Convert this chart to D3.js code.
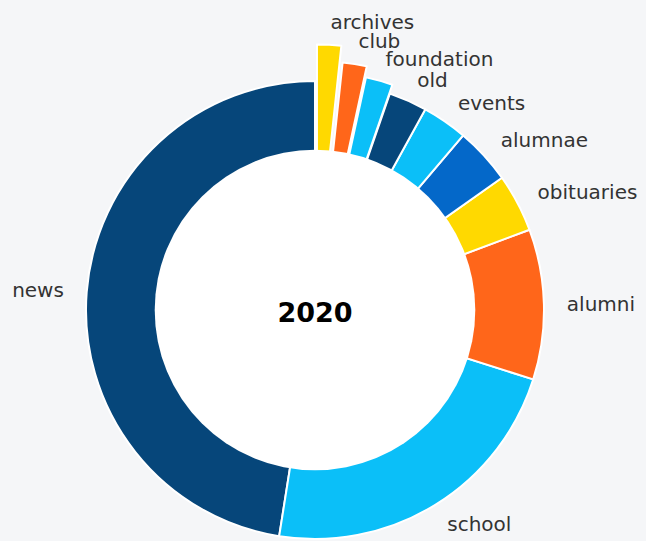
<!DOCTYPE html>
<html>
<head>
<meta charset="utf-8">
<script src="https://cdn.jsdelivr.net/npm/d3@7"></script>
<style>
  html, body { margin: 0; padding: 0; background: #f5f6f8; }
  svg { display: block; }
</style>
</head>
<body>
<svg id="chart" width="646" height="541"></svg>
<script>
// Share of pages per section, 2020 (percent)
const categories = ["news", "school", "alumni", "obituaries", "alumnae", "events", "old", "foundation", "club", "archives"];
const shares     = [47.5, 22.6, 10.6, 4.1, 4.0, 3.2, 2.7, 1.9, 1.7, 1.7];
// How far each wedge is pulled out, as a fraction of the radius
const offsets    = [0, 0, 0, 0, 0, 0, 0, 0.04, 0.088, 0.16];
const palette    = ["#06467a", "#0bbff8", "#ff661a", "#ffd900", "#0468c9", "#0bbff8", "#06467a", "#0bbff8", "#ff661a", "#ffd900"];
const centerTitle = "2020";

const width = 646, height = 541;
const cx = 315, cy = 310;
const radius = 229;
const holeRatio = 0.7;
const labelDistance = 1.1;

const svg = d3.select("#chart");
const g = svg.append("g").attr("transform", `translate(${cx},${cy})`);

const rows = categories.map((c, i) => ({ name: c, value: shares[i], offset: offsets[i], color: palette[i] }));

// Counter-clockwise from 12 o'clock
const pie = d3.pie().value(d => d.value).sort(null).startAngle(0).endAngle(-2 * Math.PI);
const arcs = pie(rows);

const arc = d3.arc().innerRadius(0).outerRadius(radius);

const mid = d => (d.startAngle + d.endAngle) / 2;

g.selectAll("path.wedge")
  .data(arcs)
  .join("path")
  .attr("class", "wedge")
  .attr("d", arc)
  .attr("transform", d => {
    const a = mid(d), s = d.data.offset * radius;
    return `translate(${s * Math.sin(a)},${-s * Math.cos(a)})`;
  })
  .attr("fill", d => d.data.color)
  .attr("stroke", "#ffffff")
  .attr("stroke-width", 2)
  .attr("stroke-linejoin", "round");

// Hole of the ring
g.append("circle")
  .attr("r", radius * holeRatio)
  .attr("fill", "#ffffff");

g.selectAll("text.label")
  .data(arcs)
  .join("text")
  .attr("class", "label")
  .attr("x", d => (labelDistance + d.data.offset) * radius * Math.sin(mid(d)))
  .attr("y", d => -(labelDistance + d.data.offset) * radius * Math.cos(mid(d)))
  .attr("text-anchor", d => Math.sin(mid(d)) > 0 ? "start" : "end")
  .attr("dominant-baseline", "central")
  .attr("font-family", "DejaVu Sans, sans-serif")
  .attr("font-size", 20)
  .attr("fill", "#333333")
  .text(d => d.data.name);

g.append("text")
  .attr("x", 0)
  .attr("y", 2)
  .attr("text-anchor", "middle")
  .attr("dominant-baseline", "central")
  .attr("font-family", "DejaVu Sans, sans-serif")
  .attr("font-weight", "bold")
  .attr("font-size", 27)
  .attr("fill", "#000000")
  .text(centerTitle);
</script>
</body>
</html>
